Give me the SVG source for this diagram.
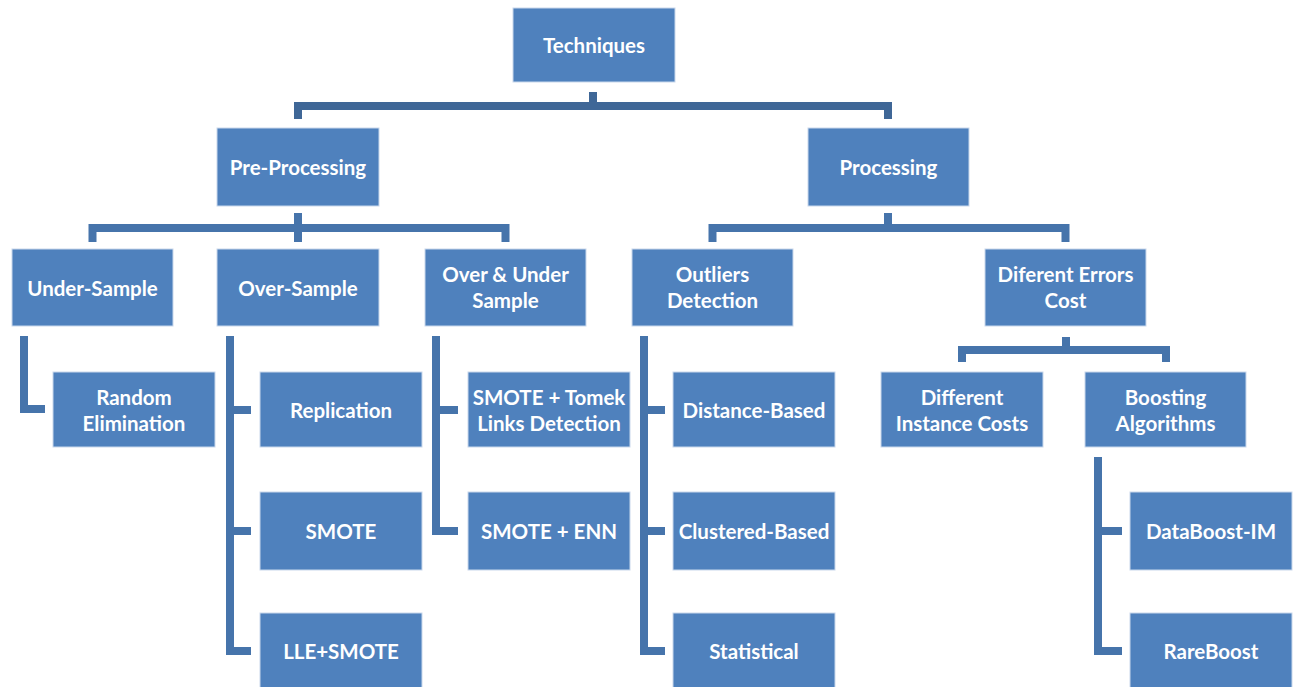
<svg xmlns="http://www.w3.org/2000/svg" width="1295" height="687" viewBox="0 0 1295 687">
<style>
.box{fill:#4f81bd;stroke:#c9d8ec;stroke-width:1}
.t{fill:#ffffff;font-family:Lato,"Open Sans","Liberation Sans",sans-serif;font-size:20.5px;font-weight:bold;text-anchor:middle;dominant-baseline:central}
.c1{fill:none;stroke:#3f6797;stroke-width:8;stroke-linejoin:miter}
.c2{fill:none;stroke:#4674ab;stroke-width:8;stroke-linejoin:miter}
</style>
<rect width="1295" height="687" fill="#ffffff"/>
<g id="connectors">
<path class="c1" d="M593,92 V106"/>
<path class="c1" d="M298,119 V106 H888 V119"/>
<path class="c2" d="M92.5,242 V228 H505.5 V242"/>
<path class="c2" d="M298,213 V242"/>
<path class="c2" d="M712.5,242 V228 H1065.5 V242"/>
<path class="c2" d="M888,213 V228"/>
<path class="c2" d="M962,362 V350 H1166 V362"/>
<path class="c2" d="M1066,337 V350"/>
<path class="c2" d="M24,336 V409 H45"/>
<path class="c2" d="M230,336 V651 H251 M230,410 H251 M230,531 H251"/>
<path class="c2" d="M436,336 V531 H458 M436,410 H458"/>
<path class="c2" d="M644,336 V651 H665 M644,410 H665 M644,531 H665"/>
<path class="c2" d="M1098,457 V651 H1122 M1098,531 H1122"/>
</g>
<g id="techniques"><rect class="box" x="513" y="8" width="162" height="74"/><text class="t" x="594" y="45">Techniques</text></g>
<g id="pre-processing"><rect class="box" x="217" y="128" width="162" height="78"/><text class="t" x="298" y="167">Pre-Processing</text></g>
<g id="processing"><rect class="box" x="808" y="128" width="161" height="78"/><text class="t" x="888.5" y="167">Processing</text></g>
<g id="under-sample"><rect class="box" x="12" y="249" width="161" height="77"/><text class="t" x="92.5" y="287.5">Under-Sample</text></g>
<g id="over-sample"><rect class="box" x="217" y="249" width="162" height="77"/><text class="t" x="298" y="287.5">Over-Sample</text></g>
<g id="over-under-sample"><rect class="box" x="425" y="249" width="161" height="77"/><text class="t" x="505.5" y="274">Over &amp; Under</text><text class="t" x="505.5" y="300">Sample</text></g>
<g id="outliers-detection"><rect class="box" x="632" y="249" width="161" height="77"/><text class="t" x="712.5" y="274">Outliers</text><text class="t" x="712.5" y="300">Detection</text></g>
<g id="diferent-errors-cost"><rect class="box" x="985" y="249" width="161" height="77"/><text class="t" x="1065.5" y="274">Diferent Errors</text><text class="t" x="1065.5" y="300">Cost</text></g>
<g id="random-elimination"><rect class="box" x="53" y="372" width="162" height="75"/><text class="t" x="134" y="397">Random</text><text class="t" x="134" y="423">Elimination</text></g>
<g id="replication"><rect class="box" x="260" y="372" width="162" height="75"/><text class="t" x="341" y="410">Replication</text></g>
<g id="smote-tomek"><rect class="box" x="468" y="372" width="162" height="75"/><text class="t" x="549" y="397">SMOTE + Tomek</text><text class="t" x="549" y="423">Links Detection</text></g>
<g id="distance-based"><rect class="box" x="673" y="372" width="162" height="75"/><text class="t" x="754" y="410">Distance-Based</text></g>
<g id="different-instance-costs"><rect class="box" x="881" y="372" width="162" height="75"/><text class="t" x="962" y="397">Different</text><text class="t" x="962" y="423">Instance Costs</text></g>
<g id="boosting-algorithms"><rect class="box" x="1085" y="372" width="161" height="75"/><text class="t" x="1165.5" y="397">Boosting</text><text class="t" x="1165.5" y="423">Algorithms</text></g>
<g id="smote"><rect class="box" x="260" y="492" width="162" height="78"/><text class="t" x="341" y="531">SMOTE</text></g>
<g id="smote-enn"><rect class="box" x="468" y="492" width="162" height="78"/><text class="t" x="549" y="531">SMOTE + ENN</text></g>
<g id="clustered-based"><rect class="box" x="673" y="492" width="162" height="78"/><text class="t" x="754" y="531">Clustered-Based</text></g>
<g id="databoost-im"><rect class="box" x="1130" y="492" width="162" height="78"/><text class="t" x="1211" y="531">DataBoost-IM</text></g>
<g id="lle-smote"><rect class="box" x="260" y="613" width="162" height="78"/><text class="t" x="341" y="651">LLE+SMOTE</text></g>
<g id="statistical"><rect class="box" x="673" y="613" width="162" height="78"/><text class="t" x="754" y="651">Statistical</text></g>
<g id="rareboost"><rect class="box" x="1130" y="613" width="162" height="78"/><text class="t" x="1211" y="651">RareBoost</text></g>
</svg>
